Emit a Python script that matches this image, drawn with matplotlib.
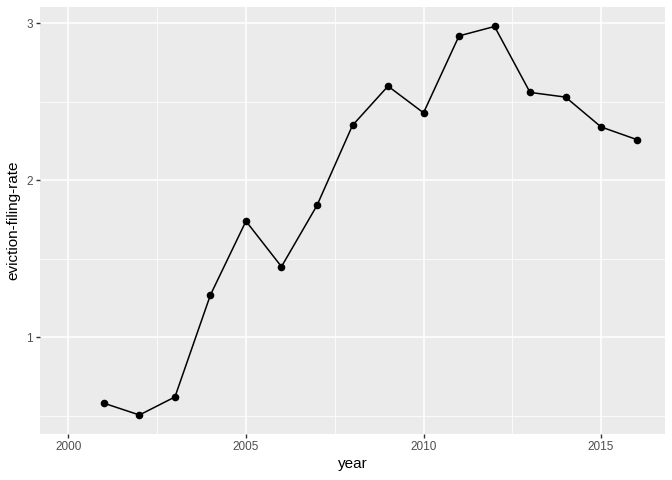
import matplotlib.pyplot as plt

plt.rcParams['font.family'] = ['Liberation Sans', 'DejaVu Sans']

# values
years = [2001, 2002, 2003, 2004, 2005, 2006, 2007, 2008,
         2009, 2010, 2011, 2012, 2013, 2014, 2015, 2016]
rates = [0.58, 0.505, 0.62, 1.27, 1.74, 1.45, 1.84, 2.35,
         2.60, 2.43, 2.92, 2.98, 2.56, 2.53, 2.34, 2.26]
x_ticks = [2000, 2005, 2010, 2015]
y_ticks = [1, 2, 3]

fig = plt.figure(figsize=(6.72, 4.8), dpi=100)
ax = fig.add_axes([40 / 672, 45.7 / 480, 625 / 672, 427.6 / 480])

# ggplot grey theme
ax.set_facecolor('#EBEBEB')
for s in ax.spines.values():
    s.set_visible(False)
ax.set_xticks(x_ticks)
ax.set_yticks(y_ticks)
ax.set_xticks([2002.5, 2007.5, 2012.5], minor=True)
ax.set_yticks([0.5, 1.5, 2.5], minor=True)
ax.grid(which='major', color='white', linewidth=1.1)
ax.grid(which='minor', color='white', linewidth=0.55)
ax.set_axisbelow(True)
ax.tick_params(which='major', length=3, width=1.0, color='#333333',
               labelsize=8.5, labelcolor='#4D4D4D', pad=2)
ax.tick_params(which='minor', length=0)

ax.plot(years, rates, color='black', linewidth=1.1, zorder=3)
ax.scatter(years, rates, color='black', s=20, zorder=4)

ax.set_xlim(1999.2, 2016.8)
ax.set_ylim(0.382, 3.106)
ax.set_xlabel('year', fontsize=11, labelpad=3)
ax.set_ylabel('eviction-filing-rate', fontsize=11, labelpad=4)

fig.savefig('out.png', dpi=100)
